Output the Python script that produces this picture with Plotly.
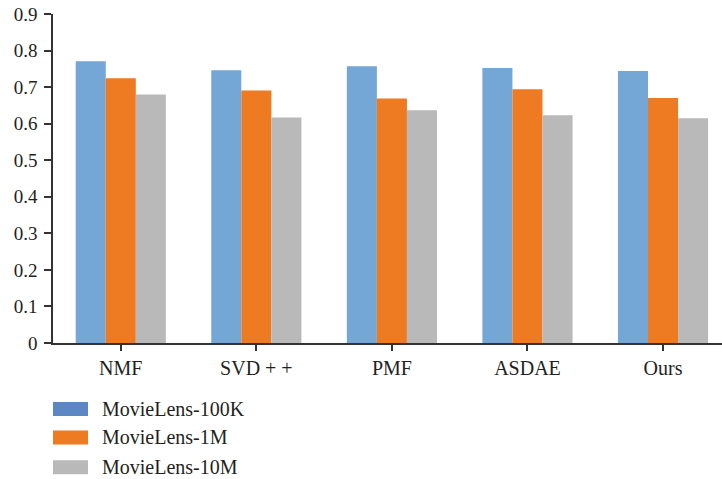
import plotly.graph_objects as go

# Methods compared and results on the three MovieLens datasets
methods = ["NMF", "SVD + +", "PMF", "ASDAE", "Ours"]
ml_100k = [0.771, 0.746, 0.757, 0.752, 0.744]
ml_1m = [0.724, 0.691, 0.669, 0.694, 0.670]
ml_10m = [0.680, 0.617, 0.637, 0.623, 0.615]

series_names = ["MovieLens-100K", "MovieLens-1M", "MovieLens-10M"]
bar_colors = ["#74A6D6", "#EE7A22", "#B9B9B9"]
key_colors = ["#5B88C5", "#EE7A22", "#B9B9B9"]
y_ticks = [0, 0.1, 0.2, 0.3, 0.4, 0.5, 0.6, 0.7, 0.8, 0.9]
y_tick_text = ["0", "0.1", "0.2", "0.3", "0.4", "0.5", "0.6", "0.7", "0.8", "0.9"]

FONT = "Liberation Serif"
INK = "#231F20"

fig = go.Figure()
for name, vals, col in zip(series_names, [ml_100k, ml_1m, ml_10m], bar_colors):
    fig.add_trace(go.Bar(x=methods, y=vals, name=name,
                         marker=dict(color=col, line=dict(width=0)),
                         showlegend=False))

# Hand-placed key beneath the axis
shapes = []
annotations = []
row_y = [-0.2006, -0.287, -0.378]
for name, col, yc in zip(series_names, key_colors, row_y):
    shapes.append(dict(type="rect", xref="paper", yref="paper",
                       x0=0.0, x1=0.0523, y0=yc - 0.0213, y1=yc + 0.0213,
                       fillcolor=col, line=dict(width=0)))
    annotations.append(dict(xref="paper", yref="paper", x=0.0703, y=yc,
                            xanchor="left", yanchor="middle", showarrow=False,
                            text=name, font=dict(family=FONT, size=20, color=INK)))

fig.update_layout(
    width=722, height=479,
    margin=dict(l=53, r=0, t=14, b=136),
    paper_bgcolor="white", plot_bgcolor="white",
    barmode="group", bargap=0.335, bargroupgap=0,
    shapes=shapes, annotations=annotations,
    font=dict(family=FONT, color=INK),
    xaxis=dict(range=[-0.5, 4.435], showgrid=False, zeroline=False,
               showline=True, linecolor="#333333", linewidth=1.5,
               ticks="outside", ticklen=6, tickcolor="#333333", tickwidth=1.5,
               tickfont=dict(family=FONT, size=20, color=INK)),
    yaxis=dict(range=[0, 0.9], showgrid=False, zeroline=False,
               showline=True, linecolor="#333333", linewidth=1.5,
               ticks="outside", ticklen=7, tickcolor="#333333", tickwidth=1.5,
               ticklabelstandoff=3,
               tickvals=y_ticks, ticktext=y_tick_text,
               tickfont=dict(family=FONT, size=19, color=INK)),
)

fig.write_html("out.html")
